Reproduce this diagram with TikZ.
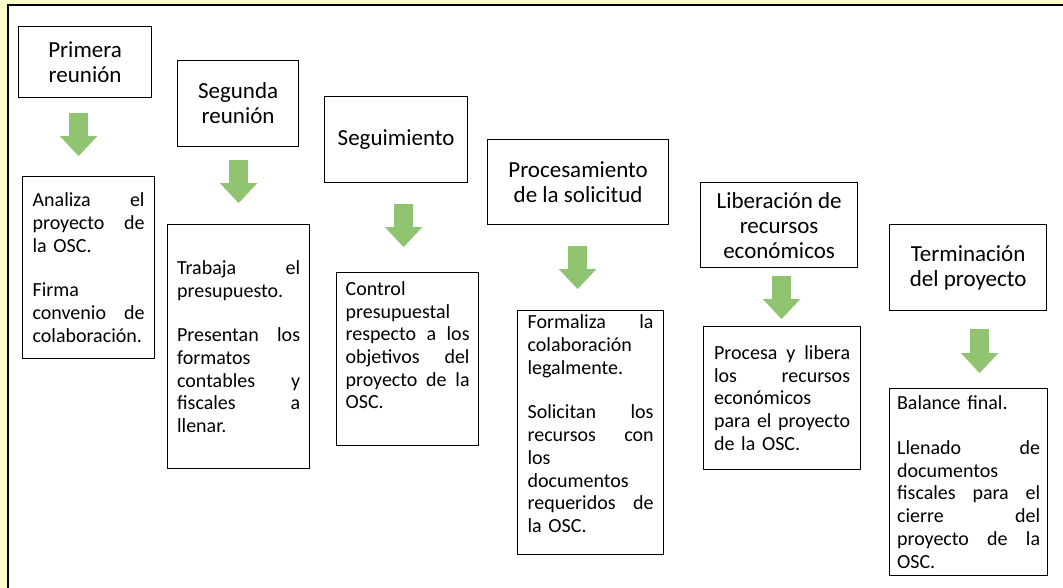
\documentclass[tikz,border=0pt]{standalone}
\usepackage{fontspec}
\setmainfont{Carlito}
\usetikzlibrary{arrows.meta,positioning}
\definecolor{framebg}{RGB}{255,255,204}
\definecolor{arrowgreen}{RGB}{145,196,112}

\begin{document}
\begin{tikzpicture}[x=1pt, y=-1pt]
\tikzset{
    mytitle/.style={rectangle, draw=black, line width=1.2pt, anchor=north west, align=center, inner sep=1pt, font=\fontsize{23}{25}\selectfont},
    mybox/.style={rectangle, draw=black, line width=1.2pt, anchor=north west, align=left, inner sep=1pt, font=\fontsize{20}{22.7}\selectfont},
    myarrow/.style={-{Triangle[width=36pt, length=20pt]}, line width=19pt, draw=arrowgreen}
}
\useasboundingbox (0,0) rectangle (1063,588);
\fill[framebg] (0,0) rectangle (1063,588);
\fill[white] (8,6) rectangle (1063,588);
\draw[line width=2.2pt] (7.8,588) -- (7.8,5) -- (1063,5); % only top and left edges show

% stages
\node[mytitle, minimum width=133pt, minimum height=71pt] (primera) at (18,26) {Primera\\reunión};
\node[mytitle, minimum width=121pt, minimum height=86pt] (segunda) at (177,60) {Segunda\\reunión};
\node[mytitle, minimum width=143pt, minimum height=86pt] (seguimiento) at (324,96) {Seguimiento};
\node[mytitle, minimum width=181pt, minimum height=85pt] (procesamiento) at (487,139) {Procesamiento\\de la solicitud};
\node[mytitle, minimum width=157pt, minimum height=85pt] (liberacion) at (700,182) {Liberación de\\recursos\\económicos};
\node[mytitle, minimum width=157pt, minimum height=86pt] (terminacion) at (889,224) {Terminación\\del proyecto};

% what happens in each stage
\node[mybox, text width=112pt, minimum width=132pt, minimum height=182pt] (analiza) at (22,176)
    {Analiza\hfill el\\ proyecto\hfill de\\ la OSC.\\[22pt] Firma\\ convenio\hfill de\\ colaboración.};
\node[mybox, text width=123pt, minimum width=142pt, minimum height=244pt] (trabaja) at (167,224)
    {Trabaja\hfill el\\ presupuesto.\\[22pt] Presentan\hfill los\\ formatos\\ contables\hfill y\\ fiscales\hfill a\\ llenar.};
\node[mybox, text width=124pt, minimum width=142pt, minimum height=173pt] (control) at (336,272)
    {Control\\ presupuestal\\ respecto\hfill a\hfill los\\ objetivos\hfill del\\ proyecto\hfill de\hfill la\\ OSC.\\[5pt]\mbox{}};
\node[mybox, text width=126pt, minimum width=146pt, minimum height=244pt] (formaliza) at (517,310)
    {Formaliza\hfill la\\ colaboración\\ legalmente.\\[22pt] Solicitan\hfill los\\ recursos\hfill con\\ los\\ documentos\\ requeridos\hfill de\\ la OSC.\\[-5pt]\mbox{}};
\node[mybox, text width=136pt, minimum width=157pt, minimum height=143pt] (procesa) at (703,326)
    {Procesa\hfill y\hfill libera\\ los\hfill recursos\\ económicos\\ para\hfill el\hfill proyecto\\ de la OSC.};
\node[mybox, text width=143pt, minimum width=158pt, minimum height=187pt] (balance) at (889,388)
    {Balance final.\\[22pt] Llenado\hfill de\\ documentos\\ fiscales\hfill para\hfill el\\ cierre\hfill del\\ proyecto\hfill de\hfill la\\ OSC.};

% block arrows, they float between the boxes
\draw[myarrow] ([xshift=-6.5pt, yshift=-15pt]primera.south) -- ++(0,43);
\draw[myarrow] ([xshift=0.5pt, yshift=-13pt]segunda.south) -- ++(0,43);
\draw[myarrow] ([xshift=7.5pt, yshift=-21pt]seguimiento.south) -- ++(0,43);
\draw[myarrow] ([xshift=-0.5pt, yshift=-21pt]procesamiento.south) -- ++(0,43);
\draw[myarrow] ([xshift=2.5pt, yshift=-8pt]liberacion.south) -- ++(0,43);
\draw[myarrow] ([xshift=11.5pt, yshift=-18pt]terminacion.south) -- ++(0,44);

\end{tikzpicture}
\end{document}
